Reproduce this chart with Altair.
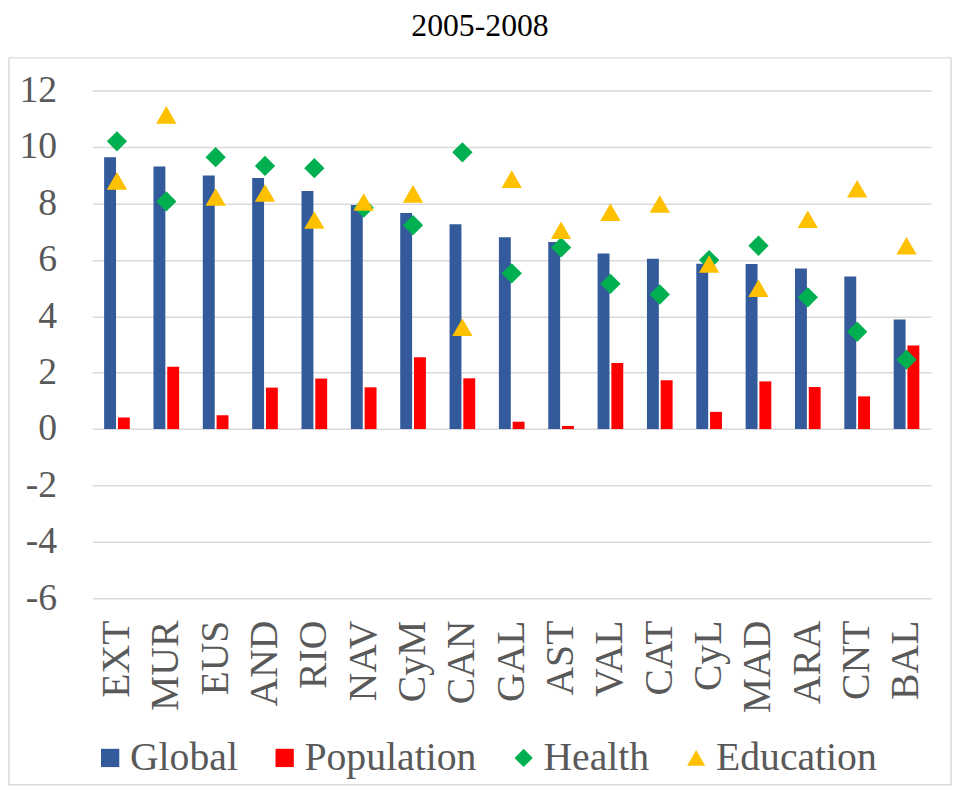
import altair as alt
import pandas as pd

regions = ["EXT", "MUR", "EUS", "AND", "RIO", "NAV", "CyM", "CAN", "GAL",
           "AST", "VAL", "CAT", "CyL", "MAD", "ARA", "CNT", "BAL"]
global_vals = [9.64, 9.31, 8.99, 8.90, 8.44, 7.94, 7.66, 7.26, 6.80,
               6.63, 6.22, 6.04, 5.86, 5.85, 5.69, 5.41, 3.88]
population = [0.41, 2.21, 0.49, 1.47, 1.79, 1.48, 2.55, 1.80, 0.26,
              0.11, 2.34, 1.73, 0.61, 1.69, 1.49, 1.16, 2.96]
health = [10.20, 8.07, 9.64, 9.33, 9.25, 7.85, 7.23, 9.81, 5.52,
          6.44, 5.15, 4.77, 5.99, 6.50, 4.67, 3.45, 2.46]
education = [8.80, 11.14, 8.23, 8.37, 7.41, 8.05, 8.34, 3.61, 8.86,
             7.05, 7.69, 7.98, 5.85, 4.99, 7.44, 8.52, 6.50]

series = ["Global", "Population", "Health", "Education"]
colors = ["#335A9A", "#FF0000", "#00B050", "#FFC000"]
shapes = ["square", "square", "diamond", "triangle-up"]
y_ticks = [-6, -4, -2, 0, 2, 4, 6, 8, 10, 12]

rows = []
for name, vals in zip(series, [global_vals, population, health, education]):
    for r, v in zip(regions, vals):
        rows.append({"region": r, "series": name, "value": v})
df = pd.DataFrame(rows)

FONT = "Liberation Serif"
TXT = "#595959"

x_enc = alt.X("region:N", sort=regions, title=None,
              scale=alt.Scale(paddingInner=0.47, paddingOuter=0.235),
              axis=alt.Axis(labelAngle=270, labelAlign="right", labelBaseline="middle",
                            labelPadding=22, labelFont=FONT, labelFontSize=40,
                            labelColor=TXT, ticks=False, domain=False, grid=False))
y_enc = alt.Y("value:Q", title=None,
              scale=alt.Scale(domain=[-6, 12], nice=False, zero=False),
              axis=alt.Axis(values=y_ticks, labelFont=FONT, labelFontSize=38,
                            labelColor=TXT, labelPadding=36, ticks=False, domain=False,
                            labelExpr="datum.value < 0 ? '-' + abs(datum.value) : datum.label",
                            grid=True, gridColor="#d9d9d9", gridWidth=1.5))

legend = alt.Legend(title=None, orient="none", direction="horizontal",
                    legendX=-2, legendY=653, labelFont=FONT, labelFontSize=40,
                    labelColor=TXT, symbolSize=340, labelOffset=0, labelLimit=400,
                    columnPadding=27, symbolStrokeWidth=0, symbolOpacity=1)

color_enc = alt.Color("series:N", scale=alt.Scale(domain=series, range=colors), legend=legend)

bars = alt.Chart(df).transform_filter(
    alt.FieldOneOfPredicate(field="series", oneOf=["Global", "Population"])
).mark_bar(size=12).encode(
    x=x_enc,
    xOffset=alt.XOffset("series:N", sort=["Global", "Population"],
                        scale=alt.Scale(domain=["Global", "Population"], paddingInner=0.1)),
    y=y_enc,
    color=color_enc,
)

points = alt.Chart(df).transform_filter(
    alt.FieldOneOfPredicate(field="series", oneOf=["Health", "Education"])
).transform_calculate(
    value_order="datum.series == 'Health' ? 0 : 1"
).mark_point(filled=True, opacity=1, size=420, strokeWidth=0).encode(
    x=x_enc,
    y=y_enc,
    color=color_enc,
    shape=alt.Shape("series:N", scale=alt.Scale(domain=series, range=shapes), legend=legend),
    order=alt.Order("value_order:Q"),
)

frame = alt.Chart(pd.DataFrame({"f": [0]})).mark_rect(
    filled=False, stroke="#d9d9d9", strokeWidth=1.5
).encode(
    x=alt.value(-84), x2=alt.value(866), y=alt.value(-33), y2=alt.value(700)
)

chart = alt.layer(frame, bars, points).properties(
    width=846, height=512,
    autosize=alt.AutoSizeParams(type="none"),
    padding={"left": 85, "top": 80, "right": 22, "bottom": 186},
    title=alt.Title("2005-2008", font=FONT, fontSize=32, fontWeight="normal",
                    color="black", anchor="middle", offset=14, dx=-32),
).configure(font=FONT).configure_view(stroke="transparent").configure_axis(
    labelFont=FONT
).configure_legend(
    labelFont=FONT, labelFontSize=40, labelColor=TXT, labelLimit=400
).configure_title(font=FONT, fontSize=32, fontWeight="normal", color="black")

chart.save("out.html", embed_options={"renderer": "svg", "actions": False})
